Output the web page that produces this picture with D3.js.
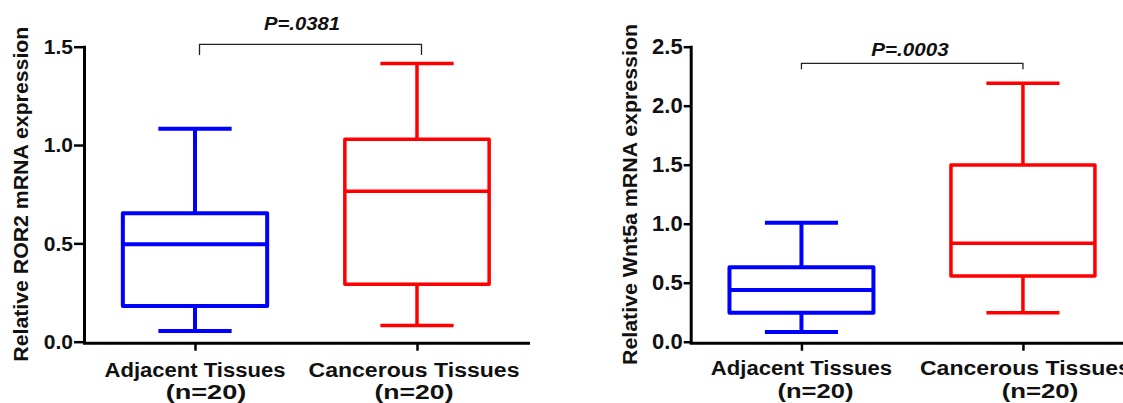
<!DOCTYPE html>
<html>
<head>
<meta charset="utf-8">
<script src="https://cdn.jsdelivr.net/npm/d3@7"></script>
<style>
  html, body { margin: 0; padding: 0; background: #ffffff; }
  svg { display: block; }
  text { font-family: "Liberation Sans", Arial, sans-serif; font-weight: bold; fill: #111; }
</style>
</head>
<body>
<svg id="chart" width="1123" height="403"></svg>
<script>
// ---------------- DATA ----------------
const categories = ["Adjacent Tissues", "Cancerous Tissues"];
const sampleSizes = ["(n=20)", "(n=20)"];

// Panel 1: ROR2
const ror2Title = "Relative ROR2 mRNA expression";
const ror2Min    = [0.054, 0.083];
const ror2Q1     = [0.181, 0.292];
const ror2Median = [0.495, 0.765];
const ror2Q3     = [0.653, 1.030];
const ror2Max    = [1.083, 1.415];
const ror2Ticks  = [0.0, 0.5, 1.0, 1.5];
const ror2Domain = [0, 1.5];
const ror2P      = "P=.0381";
const ror2Bracket = 1.512;

// Panel 2: Wnt5a
const wnt5aTitle = "Relative Wnt5a mRNA expression";
const wnt5aMin    = [0.082, 0.246];
const wnt5aQ1     = [0.246, 0.557];
const wnt5aMedian = [0.438, 0.834];
const wnt5aQ3     = [0.630, 1.497];
const wnt5aMax    = [1.008, 2.190];
const wnt5aTicks  = [0.0, 0.5, 1.0, 1.5, 2.0, 2.5];
const wnt5aDomain = [0, 2.5];
const wnt5aP      = "P=.0003";
const wnt5aBracket = 2.359;

const seriesColors = ["#0000ff", "#ff0000"];

// ---------------- LAYOUT ----------------
const panels = [
  {
    title: ror2Title, domain: ror2Domain, ticks: ror2Ticks,
    min: ror2Min, q1: ror2Q1, med: ror2Median, q3: ror2Q3, max: ror2Max,
    p: ror2P, bracket: ror2Bracket,
    axisX: 84, xEnd: 528, top: 46.7, bottom: 341.7,
    tickSize: 10, tickPad: 1, tickFont: 21,
    titleX: 28.4, titleY: 194.2, titleLen: 335, titleFont: 20,
    pX: 302, pY: 29.5, pLen: 76,
    bracketOffset: 4.5, bracketDrop: 10.7,
    line1Y: 376.5, line2Y: 399,
    line1Dx: [0, -3], line1Len: [181, 211],
    line2Dx: [11, -3], line2Len: [80.7, 79],
    boxStroke: [4, 3.5]
  },
  {
    title: wnt5aTitle, domain: wnt5aDomain, ticks: wnt5aTicks,
    min: wnt5aMin, q1: wnt5aQ1, med: wnt5aMedian, q3: wnt5aQ3, max: wnt5aMax,
    p: wnt5aP, bracket: wnt5aBracket,
    axisX: 690.7, xEnd: 1133.7, top: 46.7, bottom: 341.7,
    tickSize: 7, tickPad: 1, tickFont: 22,
    titleX: 637, titleY: 194.5, titleLen: 341, titleFont: 20,
    pX: 910, pY: 56, pLen: 77.5,
    bracketOffset: 0, bracketDrop: 6,
    line1Y: 374.5, line2Y: 398,
    line1Dx: [0, 2.5], line1Len: [181.3, 211],
    line2Dx: [14, 17], line2Len: [76, 76.6],
    boxStroke: [4, 3.5]
  }
];

const svg = d3.select("#chart");

panels.forEach(P => {
  const g = svg.append("g");
  const y = d3.scaleLinear().domain(P.domain).range([P.bottom, P.top]);
  const x = d3.scalePoint().domain(categories).range([P.axisX, P.xEnd]).padding(0.5);
  const step = x.step();
  const boxW = step * 0.65;
  const capW = step * 0.33;

  // Y axis
  const yAxis = d3.axisLeft(y).tickValues(P.ticks).tickFormat(d3.format(".1f"))
    .tickSize(P.tickSize).tickSizeOuter(0).tickPadding(P.tickPad);
  const ya = g.append("g").attr("transform", `translate(${P.axisX},0)`).call(yAxis);
  ya.select(".domain").attr("stroke", "#000").attr("stroke-width", 3).attr("stroke-linecap", "square");
  ya.selectAll(".tick line").attr("stroke", "#000").attr("stroke-width", 2.5);
  ya.selectAll(".tick text").attr("font-size", P.tickFont).attr("fill", "#111")
    .style("font-family", '"Liberation Sans", Arial, sans-serif').style("font-weight", "bold");

  // X axis
  const xAxis = d3.axisBottom(x).tickSize(8).tickSizeOuter(0).tickFormat("");
  const xa = g.append("g").attr("transform", `translate(0,${P.bottom + 1})`).call(xAxis);
  xa.select(".domain").attr("stroke", "#000").attr("stroke-width", 3).attr("stroke-linecap", "square");
  xa.selectAll(".tick line").attr("stroke", "#000").attr("stroke-width", 2.5);

  // Category labels (two lines)
  categories.forEach((c, i) => {
    g.append("text")
      .attr("x", x(c) + P.line1Dx[i]).attr("y", P.line1Y)
      .attr("text-anchor", "middle").attr("font-size", 20)
      .attr("textLength", P.line1Len[i]).attr("lengthAdjust", "spacingAndGlyphs")
      .text(c);
    g.append("text")
      .attr("x", x(c) + P.line2Dx[i]).attr("y", P.line2Y)
      .attr("text-anchor", "middle").attr("font-size", 20)
      .attr("textLength", P.line2Len[i]).attr("lengthAdjust", "spacingAndGlyphs")
      .text(sampleSizes[i]);
  });

  // Y title
  g.append("text")
    .attr("transform", `translate(${P.titleX},${P.titleY}) rotate(-90)`)
    .attr("text-anchor", "middle").attr("font-size", P.titleFont)
    .attr("textLength", P.titleLen).attr("lengthAdjust", "spacingAndGlyphs")
    .text(P.title);

  // Box plots
  categories.forEach((c, i) => {
    const cx = x(c);
    const col = seriesColors[i];
    const sw = P.boxStroke[i];
    const bg = g.append("g").attr("stroke", col).attr("fill", "none");
    // whiskers
    bg.append("line").attr("x1", cx).attr("x2", cx).attr("y1", y(P.max[i])).attr("y2", y(P.q3[i])).attr("stroke-width", sw);
    bg.append("line").attr("x1", cx).attr("x2", cx).attr("y1", y(P.q1[i])).attr("y2", y(P.min[i])).attr("stroke-width", sw);
    // caps
    bg.append("line").attr("x1", cx - capW / 2).attr("x2", cx + capW / 2).attr("y1", y(P.max[i])).attr("y2", y(P.max[i])).attr("stroke-width", sw);
    bg.append("line").attr("x1", cx - capW / 2).attr("x2", cx + capW / 2).attr("y1", y(P.min[i])).attr("y2", y(P.min[i])).attr("stroke-width", sw);
    // box
    bg.append("rect").attr("x", cx - boxW / 2).attr("width", boxW)
      .attr("y", y(P.q3[i])).attr("height", y(P.q1[i]) - y(P.q3[i]))
      .attr("fill", "#fff").attr("stroke-width", sw).attr("stroke-linejoin", "round");
    // median
    bg.append("line").attr("x1", cx - boxW / 2).attr("x2", cx + boxW / 2).attr("y1", y(P.med[i])).attr("y2", y(P.med[i])).attr("stroke-width", sw);
  });

  // Significance bracket
  const bx1 = x(categories[0]) + P.bracketOffset;
  const bx2 = x(categories[1]) + P.bracketOffset;
  const by = y(P.bracket);
  g.append("path")
    .attr("d", `M${bx1},${by + P.bracketDrop}V${by}H${bx2}V${by + P.bracketDrop}`)
    .attr("fill", "none").attr("stroke", "#222").attr("stroke-width", 1.3);

  g.append("text")
    .attr("x", P.pX).attr("y", P.pY)
    .attr("text-anchor", "middle").attr("font-size", 19)
    .style("font-style", "italic")
    .attr("textLength", P.pLen).attr("lengthAdjust", "spacingAndGlyphs")
    .text(P.p);
});
</script>
</body>
</html>
